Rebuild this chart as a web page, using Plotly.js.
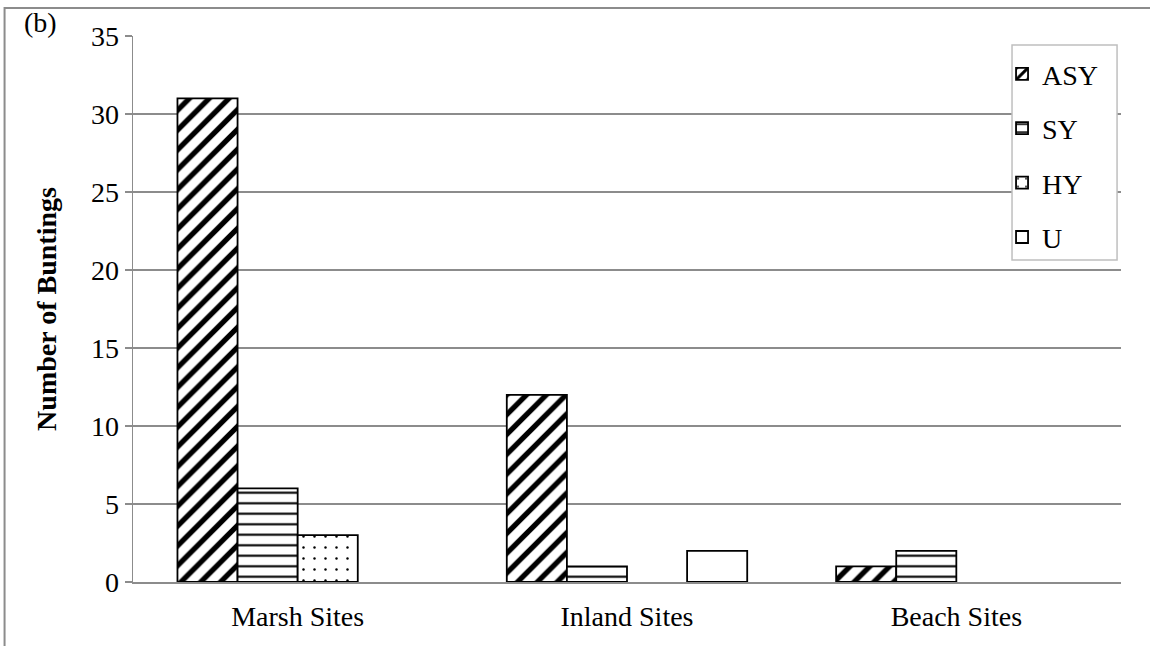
<!DOCTYPE html>
<html>
<head>
<meta charset="utf-8">
<script src="https://cdn.plot.ly/plotly-3.0.1.min.js"></script>
<style>html,body{margin:0;padding:0;background:#fff;}#chart{width:1150px;height:646px;}</style>
</head>
<body>
<div id="chart"></div>
<script>
const categories = ["Marsh Sites", "Inland Sites", "Beach Sites"];
const seriesNames = ["ASY", "SY", "HY", "U"];
const asyValues = [31, 12, 1];
const syValues = [6, 1, 2];
const hyValues = [3, 0, 0];
const uValues = [0, 2, 0];
const yTickValues = [0, 5, 10, 15, 20, 25, 30, 35];

const FONT = "Liberation Serif, Times New Roman, serif";
const FS = 28;

function mk(name, vals, pattern, group) {
  return {
    type: "bar", name: name, x: categories,
    // zero-height bars are left undrawn, as in the original chart
    y: vals.map(v => v === 0 ? null : v),
    legendgroup: group,
    marker: {
      color: "#fff",
      line: {color: "#000", width: 1.8},
      pattern: pattern
    },
    hoverinfo: "skip"
  };
}

const traces = [
  mk(seriesNames[0], asyValues, {shape: "/", size: 14, solidity: 0.38, fgcolor: "#000", bgcolor: "#fff", fillmode: "replace"}, "g1"),
  mk(seriesNames[1], syValues, {shape: "-", size: 10.5, solidity: 0.2, fgcolor: "#000", bgcolor: "#fff", fillmode: "replace"}, "g2"),
  mk(seriesNames[2], hyValues, {shape: ".", size: 11, solidity: 0.04, fgcolor: "#000", bgcolor: "#fff", fillmode: "replace"}, "g3"),
  mk(seriesNames[3], uValues, {shape: "", fgcolor: "#000", bgcolor: "#fff"}, "g4")
];

const layout = {
  width: 1150, height: 646,
  margin: {l: 133, r: 29, t: 36, b: 64, pad: 0},
  paper_bgcolor: "#fff", plot_bgcolor: "#fff",
  font: {family: FONT, size: FS, color: "#000"},
  barmode: "group", bargap: 0.27, bargroupgap: 0,
  showlegend: true,
  legend: {
    x: 0.8796, y: 0.976, xanchor: "left", yanchor: "top",
    borderwidth: 0, bgcolor: "rgba(0,0,0,0)",
    font: {family: FONT, size: FS, color: "#000"},
    tracegroupgap: 15, traceorder: "grouped"
  },
  xaxis: {
    type: "category", showgrid: false, zeroline: false,
    showline: true, linecolor: "#8c8c8c", linewidth: 1.5,
    ticks: "outside", ticklen: 9, tickcolor: "rgba(0,0,0,0)",
    tickfont: {family: FONT, size: FS, color: "#000"}
  },
  yaxis: {
    range: [0, 35], tickvals: yTickValues, ticktext: yTickValues.map(String),
    showgrid: true, gridcolor: "#8c8c8c", gridwidth: 1.5,
    zeroline: false, showline: true, linecolor: "#8c8c8c", linewidth: 1.5,
    ticks: "outside", ticklen: 7, tickcolor: "#8c8c8c", tickwidth: 1.5,
    tickfont: {family: FONT, size: FS, color: "#000"},
    title: {text: "<b>Number of Buntings</b>", font: {family: FONT, size: FS, color: "#000"}, standoff: 26}
  },
  shapes: [
    {
      type: "rect", xref: "paper", yref: "paper",
      x0: -0.1300, x1: 1.2, y0: -0.3, y1: 1.0515,
      line: {color: "#8c8c8c", width: 2}, fillcolor: "rgba(0,0,0,0)", layer: "below"
    },
    {
      type: "rect", xref: "paper", yref: "paper",
      x0: 0.8897, x1: 0.9960, y0: 0.5897, y1: 0.9835,
      line: {color: "#bfbfbf", width: 1.5}, fillcolor: "#fff", layer: "above"
    }
  ],
  annotations: [{
    text: "(b)", xref: "paper", yref: "paper", x: -0.1123, y: 1.0256,
    xanchor: "left", yanchor: "middle", showarrow: false,
    font: {family: FONT, size: FS, color: "#000"}
  }]
};

Plotly.newPlot("chart", traces, layout, {displayModeBar: false, staticPlot: true});
</script>
</body>
</html>
